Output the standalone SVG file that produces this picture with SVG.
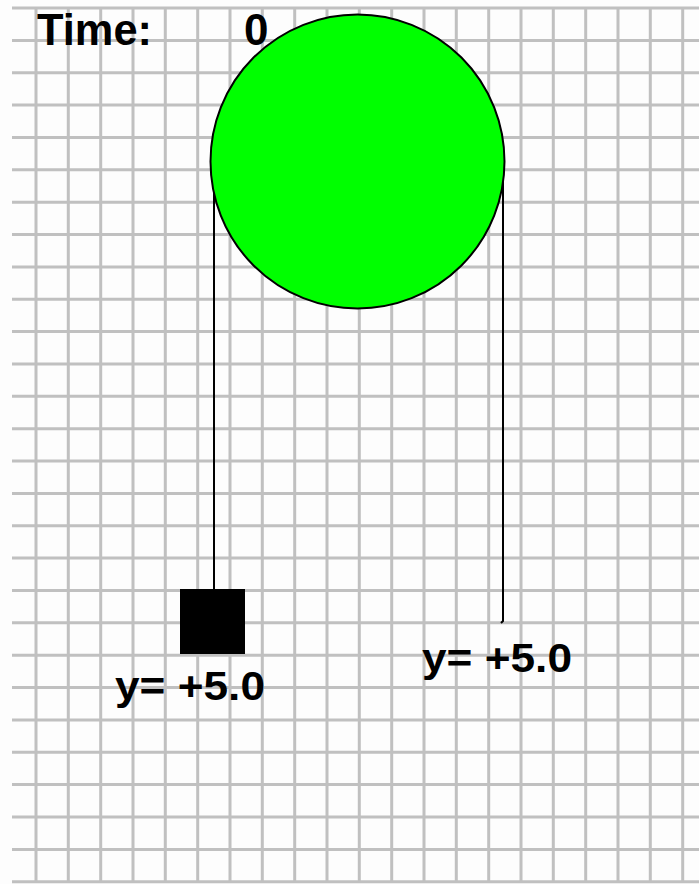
<svg xmlns="http://www.w3.org/2000/svg" width="699" height="884" viewBox="0 0 699 884">
<style>
.grid{stroke:#c0c0c0;stroke-width:3;fill:none}
.rope{stroke:#000;stroke-width:2;fill:none}
.lbl{font-family:"Liberation Sans",Arial,sans-serif;font-weight:bold;fill:#000}
</style>
<rect x="0" y="0" width="699" height="884" fill="#fdfdfd"/>
<g id="grid" class="grid">
<path d="M36 8V882M68.3 8V882M100.7 8V882M133 8V882M165.3 8V882M197.7 8V882M230 8V882M262.3 8V882M294.7 8V882M327 8V882M359.3 8V882M391.7 8V882M424 8V882M456.3 8V882M488.7 8V882M521 8V882M553.3 8V882M585.7 8V882M618 8V882M650.3 8V882M682.7 8V882"/>
<path d="M12 8H699M12 40.4H699M12 72.7H699M12 105.1H699M12 137.4H699M12 169.8H699M12 202.2H699M12 234.5H699M12 266.9H699M12 299.2H699M12 331.6H699M12 364H699M12 396.3H699M12 428.7H699M12 461H699M12 493.4H699M12 525.8H699M12 558.1H699M12 590.5H699M12 622.8H699M12 655.2H699M12 687.6H699M12 719.9H699M12 752.3H699M12 784.6H699M12 817H699M12 849.4H699M12 881.7H699"/>
</g>
<g id="connectors">
<path class="rope" d="M214 161V590"/>
<path class="rope" d="M503 161V621L501 623"/>
</g>
<g id="pulley">
<circle cx="357.5" cy="161.5" r="147" fill="#00ff00" stroke="#000" stroke-width="2"/>
</g>
<g id="mass">
<rect x="180" y="589" width="65" height="65" fill="#000"/>
</g>
<g id="time">
<text class="lbl" x="37" y="45" font-size="44" textLength="115" lengthAdjust="spacingAndGlyphs">Time:</text>
<text class="lbl" x="244" y="45" font-size="44">0</text>
</g>
<g id="label-left">
<text class="lbl" x="115" y="700" font-size="41" textLength="150" lengthAdjust="spacingAndGlyphs">y= +5.0</text>
</g>
<g id="label-right">
<text class="lbl" x="422" y="672" font-size="41" textLength="150" lengthAdjust="spacingAndGlyphs">y= +5.0</text>
</g>
</svg>
